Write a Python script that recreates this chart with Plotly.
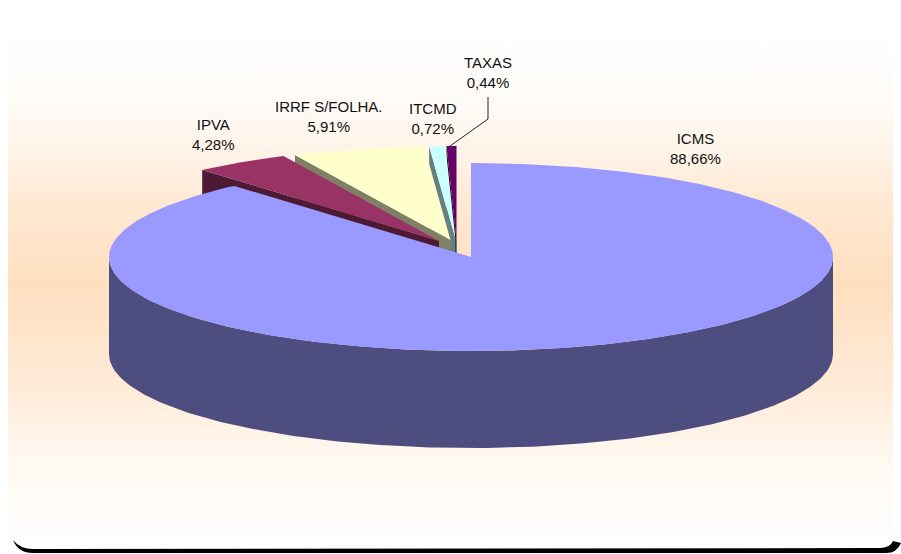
import numpy as np
import plotly.graph_objects as go

# ---- data ----
categories = ["ICMS", "IPVA", "IRRF S/FOLHA.", "ITCMD", "TAXAS"]
values = [88.66, 4.28, 5.91, 0.72, 0.44]
value_labels = ["88,66%", "4,28%", "5,91%", "0,72%", "0,44%"]

# ---- pie projection / styling ----
W, H = 901, 554
RX, RY, DEPTH = 362, 94, 97
top_colors = ["#9999FF", "#993366", "#FFFFCC", "#CCFFFF", "#660066"]
wall_colors = ["#4D4D80", "#4D1A33", "#808066", "#668080", "#1A001A"]
centers = [(471, 257), (439, 241), (450.5, 240), (455.5, 240), (456.5, 240)]
label_xy = [(695, 148), (213, 134), (329, 116), (433, 118), (488, 72)]

fracs = np.array(values) / sum(values)
edges = np.concatenate([[0], np.cumsum(fracs)]) * 2 * np.pi


def ell(cx, cy, a, dy=0):
    return cx + RX * np.sin(a), cy - RY * np.cos(a) + dy


def poly(fig, xs, ys, color):
    fig.add_trace(go.Scatter(x=list(xs), y=list(ys), mode="lines", fill="toself",
                             fillcolor=color, line=dict(width=0), hoverinfo="skip",
                             showlegend=False))


fig = go.Figure()

# panel background: rounded rectangle with vertical gradient
x0, x1, y0, y1, r = 8, 893, 11, 548, 20
t = np.linspace(0, np.pi / 2, 12)
px = np.concatenate([x0 + r - r * np.cos(t), x1 - r + r * np.sin(t),
                     x1 - r + r * np.cos(t), x0 + r - r * np.sin(t)])
py = np.concatenate([y0 + r - r * np.sin(t), y0 + r - r * np.cos(t),
                     y1 - r + r * np.sin(t), y1 - r + r * np.cos(t)])
fig.add_trace(go.Scatter(
    x=list(px) + [px[0]], y=list(py) + [py[0]], mode="lines", fill="toself",
    line=dict(width=0), hoverinfo="skip", showlegend=False,
    fillgradient=dict(type="vertical",
                      colorscale=[[0, "#FFFFFF"], [0.166, "#FFF8F1"], [0.296, "#FFEBD8"],
                                  [0.488, "#FFDFBF"], [0.65, "#FFE9D3"], [0.724, "#FFF2E6"],
                                  [0.818, "#FFFAF5"], [0.91, "#FFFEFD"], [1, "#FFFFFF"]])))

# exploded slices, back to front
for i in [4, 3, 2, 1]:
    cx, cy = centers[i]
    a0, a1 = edges[i], edges[i + 1]
    # left cut wall
    ox, oy = ell(cx, cy, a0)
    poly(fig, [ox, cx, cx, ox], [oy, cy, cy + DEPTH, oy + DEPTH], wall_colors[i])
    # top
    a = np.linspace(a0, a1, 40)
    ex, ey = ell(cx, cy, a)
    poly(fig, [cx, *ex], [cy, *ey], top_colors[i])

# main slice: front wall then top
cx, cy = centers[0]
a = np.linspace(np.pi / 2, 3 * np.pi / 2, 180)
ex, ey = ell(cx, cy, a)
poly(fig, [*ex, *ex[::-1]], [*ey, *(ey[::-1] + DEPTH)], wall_colors[0])
a = np.linspace(edges[0], edges[1], 360)
ex, ey = ell(cx, cy, a)
poly(fig, [cx, *ex], [cy, *ey], top_colors[0])

# labels
annotations = [
    dict(x=lx, y=ly, xref="x", yref="y", text=f"{c}<br>{v}", showarrow=False,
         align="center", xanchor="center", yanchor="middle",
         font=dict(family="Liberation Sans, Arial, sans-serif", size=15, color="#111111"))
    for c, v, (lx, ly) in zip(categories, value_labels, label_xy)
]

shapes = [
    # leader line for TAXAS
    dict(type="path", path="M 488 97 L 488 119 L 450 146", xref="x", yref="y",
         line=dict(color="#222222", width=1)),
    # dark drop shadow crescent along the bottom edge
    dict(type="path", xref="x", yref="y", fillcolor="#000000", line=dict(width=0),
         path="M 13 540 Q 18 553 33 553 L 886 553 Q 897 553 901 543 L 893 541 "
              "Q 890 548 880 548 L 33 549 Q 20 549 13 540 Z"),
]

fig.update_layout(
    width=W, height=H, autosize=False,
    margin=dict(l=0, r=0, t=0, b=0),
    paper_bgcolor="#FFFFFF", plot_bgcolor="rgba(0,0,0,0)",
    showlegend=False, annotations=annotations, shapes=shapes,
    xaxis=dict(range=[0, W], visible=False, fixedrange=True),
    yaxis=dict(range=[H, 0], visible=False, fixedrange=True),
)
fig.write_html("out.html", config={"displayModeBar": False}, include_plotlyjs=True,
               post_script="document.body.style.margin='0';document.body.style.overflow='hidden';")
